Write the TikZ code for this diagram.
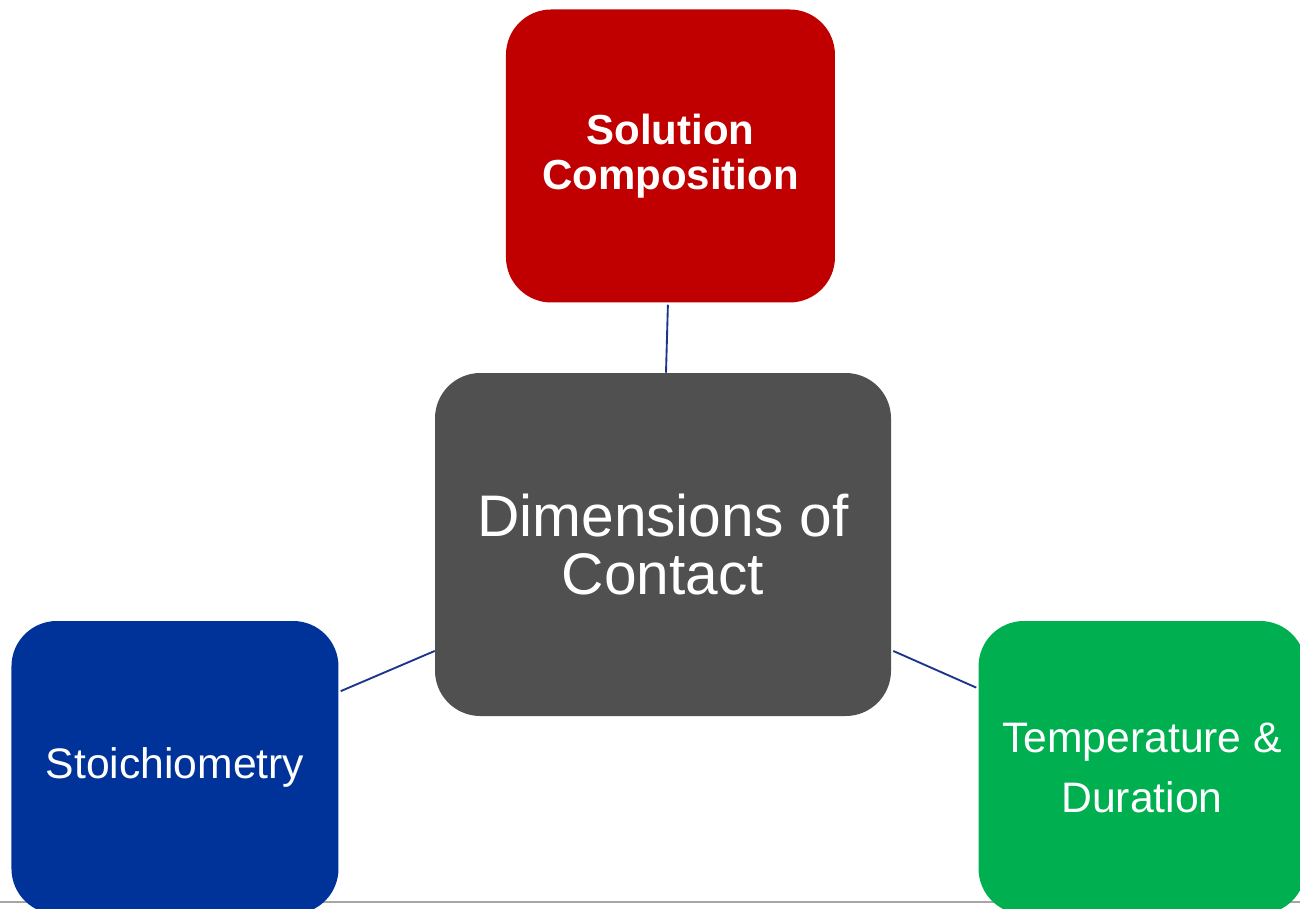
\documentclass[tikz,border=0pt]{standalone}
\usepackage{fontspec}
\newfontfamily\arialfont{Liberation Sans}
\usetikzlibrary{positioning, calc}
\definecolor{myRed}{RGB}{192, 0, 0}
\definecolor{myGray}{RGB}{80, 80, 80}
\definecolor{myBlue}{RGB}{0, 51, 153}
\definecolor{myGreen}{RGB}{0, 176, 80}
\definecolor{myLine}{RGB}{28, 52, 140}

\begin{document}
\begin{tikzpicture}[
    x=0.75pt, y=-0.75pt,
    % Styles
    tile/.style={
        rounded corners=34pt, inner sep=0pt, align=center, text=white,
        minimum width=245.25pt, minimum height=219.75pt
    },
    hub/.style={
        tile, fill=myGray, minimum width=342pt, minimum height=257.25pt,
        font=\arialfont\fontsize{44}{43.5}\selectfont
    },
    topic/.style={
        tile, font=\arialfont\fontsize{32}{45}\selectfont
    },
    link/.style={draw=myLine, line width=1.4pt}
]
    \useasboundingbox (0,0) rectangle (1300,908);

    % --- Bottom rule ---
    \draw[gray!70, line width=1.1pt] (0,902) -- (1300,902);

    % --- 1. Centre ---
    \node[hub] (contact) at (663,544.5) {Dimensions of\\Contact};

    % --- 2. The three dimensions ---
    \node[tile, fill=myRed, minimum width=246.75pt, above=52.5pt of contact, xshift=5.6pt,
          font=\arialfont\bfseries\fontsize{31.5}{34}\selectfont] (solution) {Solution\\Composition};
    \node[topic, fill=myBlue, left=72pt of contact, yshift=-167.25pt] (stoich) {Stoichiometry};
    \node[topic, fill=myGreen, right=65.25pt of contact, yshift=-167.25pt] (temp) {Temperature \&\\Duration};

    % --- Connections ---
    \draw[link] ($(solution.-91)+(0,2)$) -- (contact.89);
    \draw[link] (contact.205) -- ($(stoich.25)+(2,0)$);
    \draw[link] ($(contact.335)+(2,0)$) -- ($(temp.154)+(-2,0)$);

\end{tikzpicture}
\end{document}
